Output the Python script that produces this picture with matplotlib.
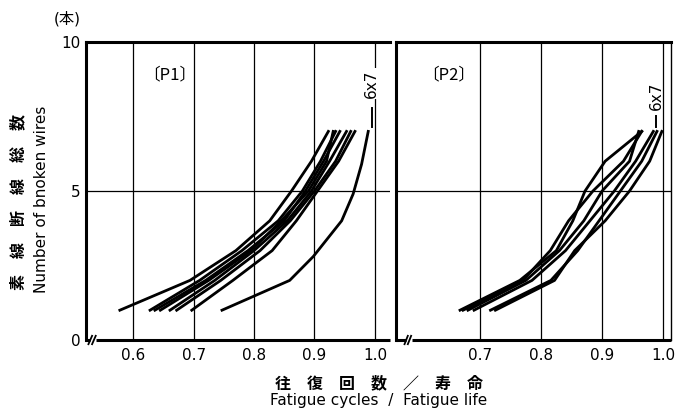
import matplotlib
matplotlib.use("Agg")
import matplotlib.pyplot as plt

plt.rcParams['font.family'] = ['DejaVu Sans', 'Noto Sans CJK JP']
JP = ['Noto Sans CJK JP', 'DejaVu Sans']

# broken wire counts (y) and fatigue-cycle ratio (x) for each rope
wires = [1, 2, 3, 4, 5, 6, 7]

p1_curves = [
    [0.578, 0.694, 0.770, 0.826, 0.862, 0.895, 0.923],
    [0.628, 0.710, 0.780, 0.840, 0.880, 0.910, 0.935],
    [0.636, 0.720, 0.790, 0.850, 0.885, 0.915, 0.942],
    [0.645, 0.725, 0.795, 0.845, 0.890, 0.920, 0.931],
    [0.661, 0.735, 0.800, 0.855, 0.895, 0.925, 0.953],
    [0.672, 0.745, 0.810, 0.860, 0.900, 0.935, 0.960],
    [0.697, 0.765, 0.830, 0.870, 0.905, 0.940, 0.967],
]
p1_6x7_x = [0.747, 0.859, 0.898, 0.945, 0.964, 0.978, 0.989]
p1_6x7_y = [1.0, 2.0, 2.8, 4.0, 4.9, 5.9, 7.0]

p2_curves = [
    [0.667, 0.765, 0.825, 0.852, 0.872, 0.905, 0.965],
    [0.672, 0.770, 0.815, 0.845, 0.885, 0.935, 0.965],
    [0.680, 0.775, 0.830, 0.870, 0.900, 0.945, 0.960],
    [0.690, 0.785, 0.840, 0.880, 0.920, 0.955, 0.984],
    [0.717, 0.816, 0.860, 0.895, 0.930, 0.965, 0.990],
    [0.725, 0.822, 0.855, 0.905, 0.945, 0.978, 0.998],
]

p1_ticks = [0.6, 0.7, 0.8, 0.9, 1.0]
p2_ticks = [0.7, 0.8, 0.9, 1.0]
y_ticks = [0, 5, 10]

fig = plt.figure(figsize=(6.75, 4.11), dpi=100)
ax1 = fig.add_axes([86 / 675, 71 / 411, 304 / 675, 298 / 411])
ax2 = fig.add_axes([396 / 675, 71 / 411, 275 / 675, 298 / 411])

lw_frame = 2.2


def style_panel(ax, ticks, xlim, brk):
    ax.set_xlim(*xlim)
    ax.set_ylim(0, 10)
    for t in ticks:
        ax.axvline(t, color='black', lw=0.9, zorder=1)
    ax.axhline(5, color='black', lw=0.9, zorder=1)
    ax.set_xticks(ticks)
    ax.set_xticklabels([f"{t:.1f}" for t in ticks], fontsize=11)
    ax.tick_params(axis='x', length=0, pad=6)
    ax.spines['bottom'].set_visible(False)
    for s in ['left', 'top']:
        ax.spines[s].set_linewidth(lw_frame)
    # bottom axis line with a break mark
    tr = ax.transAxes
    ax.plot([0, brk[0]], [0, 0], color='black', lw=lw_frame, transform=tr,
            clip_on=False, solid_capstyle='butt')
    ax.plot([brk[1], 1], [0, 0], color='black', lw=lw_frame, transform=tr,
            clip_on=False, solid_capstyle='butt')
    for dx in (0.0, 0.012):
        ax.plot([brk[0] + dx - 0.004, brk[0] + dx + 0.008], [-0.014, 0.014],
                color='black', lw=1.3, transform=tr, clip_on=False)


style_panel(ax1, p1_ticks, (0.522, 1.025), (0.012, 0.032))
style_panel(ax2, p2_ticks, (0.562, 1.013), (0.035, 0.058))
ax1.spines['right'].set_visible(False)
ax2.spines['right'].set_linewidth(1.0)

ax1.set_yticks(y_ticks)
ax1.set_yticklabels([str(v) for v in y_ticks], fontsize=11)
ax1.tick_params(axis='y', length=0, pad=4)
ax2.set_yticks([])

for xs in p1_curves:
    ax1.plot(xs, wires, color='black', lw=2.0, zorder=3)
ax1.plot(p1_6x7_x, p1_6x7_y, color='black', lw=2.0, zorder=3)
for xs in p2_curves:
    ax2.plot(xs, wires, color='black', lw=2.0, zorder=3)

ax1.text(0.617, 8.9, "〔P1〕", fontsize=12, ha='left', va='center', family=JP)
ax2.text(0.605, 8.9, "〔P2〕", fontsize=12, ha='left', va='center', family=JP)

# 6x7 labels with short leader lines
ax1.text(0.995, 8.6, "6x7", fontsize=11, rotation=90, ha='center', va='center',
         bbox=dict(facecolor='white', edgecolor='none', pad=1), zorder=2)
ax1.plot([0.995, 0.995], [7.15, 7.8], color='black', lw=1.4, zorder=2)
ax2.text(0.989, 8.2, "6x7", fontsize=11, rotation=90, ha='center', va='center')
ax2.plot([0.989, 0.989], [7.15, 7.5], color='black', lw=1.4)

fig.text(67 / 675, 1 - 19 / 411, "(本)", fontsize=11, ha='center', va='center')
fig.text(18 / 675, 1 - 202 / 411, "素　線　断　線　総　数", fontsize=11.5,
         rotation=90, ha='center', va='center', fontweight='bold', family=JP)
fig.text(42 / 675, 1 - 199 / 411, "Number of bnoken wires", fontsize=11,
         rotation=90, ha='center', va='center')
fig.text(379 / 675, 1 - 383 / 411, "往　復　回　数　／　寿　命", fontsize=11.5,
         ha='center', va='center', fontweight='bold', family=JP)
fig.text(379 / 675, 1 - 400 / 411, "Fatigue cycles  /  Fatigue life", fontsize=11,
         ha='center', va='center')

fig.savefig("out.png", dpi=100)
